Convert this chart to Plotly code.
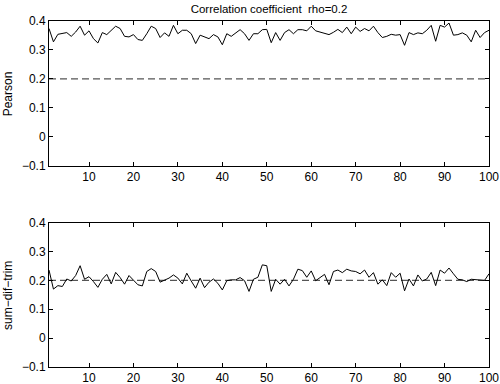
import plotly.graph_objects as go

x_vals = list(range(1, 101))

pearson = [
    0.374, 0.328, 0.354, 0.356, 0.360, 0.347, 0.362, 0.382, 0.351, 0.366,
    0.339, 0.324, 0.360, 0.353, 0.368, 0.382, 0.374, 0.347, 0.345, 0.353,
    0.336, 0.333, 0.356, 0.382, 0.374, 0.343, 0.359, 0.347, 0.385, 0.356,
    0.368, 0.368, 0.356, 0.322, 0.351, 0.345, 0.339, 0.353, 0.345, 0.318,
    0.356, 0.347, 0.359, 0.370, 0.356, 0.333, 0.356, 0.356, 0.370, 0.371,
    0.325, 0.360, 0.333, 0.360, 0.370, 0.356, 0.370, 0.370, 0.366, 0.382,
    0.366, 0.362, 0.359, 0.353, 0.361, 0.371, 0.360, 0.379, 0.356, 0.379,
    0.364, 0.374, 0.366, 0.382, 0.360, 0.343, 0.347, 0.354, 0.351, 0.353,
    0.316, 0.360, 0.353, 0.359, 0.356, 0.368, 0.385, 0.330, 0.385, 0.379,
    0.393, 0.351, 0.353, 0.359, 0.351, 0.328, 0.368, 0.343, 0.360, 0.368,
]

sum_dif_trim = [
    0.236, 0.170, 0.182, 0.179, 0.205, 0.198, 0.217, 0.251, 0.204, 0.213,
    0.196, 0.176, 0.204, 0.221, 0.188, 0.228, 0.210, 0.187, 0.217, 0.202,
    0.185, 0.181, 0.231, 0.241, 0.231, 0.194, 0.202, 0.208, 0.219, 0.208,
    0.188, 0.225, 0.198, 0.173, 0.208, 0.175, 0.194, 0.205, 0.190, 0.167,
    0.199, 0.202, 0.202, 0.210, 0.199, 0.162, 0.204, 0.211, 0.254, 0.251,
    0.162, 0.204, 0.187, 0.204, 0.181, 0.204, 0.239, 0.234, 0.211, 0.233,
    0.199, 0.211, 0.221, 0.185, 0.231, 0.236, 0.227, 0.239, 0.233, 0.231,
    0.223, 0.236, 0.211, 0.227, 0.187, 0.202, 0.182, 0.227, 0.211, 0.225,
    0.164, 0.205, 0.181, 0.219, 0.198, 0.205, 0.228, 0.182, 0.236, 0.225,
    0.243, 0.223, 0.204, 0.202, 0.196, 0.204, 0.202, 0.202, 0.200, 0.223,
]

rho = 0.2
x_ticks = [10, 20, 30, 40, 50, 60, 70, 80, 90, 100]
y_ticks = [-0.1, 0, 0.1, 0.2, 0.3, 0.4]
y_tick_text = ["\u22120.1", "0", "0.1", "0.2", "0.3", "0.4"]
title_text = "Correlation coefficient  rho=0.2"
ylabels = ["Pearson", "sum\u2212dif\u2212trim"]

FONT = "Liberation Sans, Arial, Helvetica, sans-serif"

fig = go.Figure()

for i, series in enumerate([pearson, sum_dif_trim]):
    xa = "x" if i == 0 else "x2"
    ya = "y" if i == 0 else "y2"
    fig.add_trace(go.Scatter(
        x=[x_vals[0], x_vals[-1]], y=[rho, rho], mode="lines",
        line=dict(color="#555555", width=1.2, dash="7px,4px"),
        xaxis=xa, yaxis=ya, showlegend=False, hoverinfo="skip"))
    fig.add_trace(go.Scatter(
        x=x_vals, y=series, mode="lines",
        line=dict(color="black", width=1),
        xaxis=xa, yaxis=ya, showlegend=False))

axis_common = dict(
    showgrid=False, zeroline=False, showline=True, linecolor="black",
    linewidth=1, mirror="ticks", ticks="inside", ticklen=4, tickcolor="black",
    tickfont=dict(family=FONT, size=12, color="black"), automargin=False,
)

fig.update_layout(
    width=500, height=384,
    margin=dict(l=49, r=11, t=21, b=17),
    paper_bgcolor="white", plot_bgcolor="white",
    font=dict(family=FONT, size=12, color="black"),
    title=dict(text=title_text, x=0.538, xanchor="center", y=1 - 8.5 / 384,
               yanchor="middle", font=dict(family=FONT, size=11.5, color="black")),
    xaxis=dict(domain=[0, 1], range=[1, 100], tickvals=x_ticks, anchor="y", **axis_common),
    yaxis=dict(domain=[0.5818, 1], range=[-0.1, 0.4], tickvals=y_ticks,
               ticktext=y_tick_text, anchor="x", **axis_common),
    xaxis2=dict(domain=[0, 1], range=[1, 100], tickvals=x_ticks, anchor="y2", **axis_common),
    yaxis2=dict(domain=[0, 0.417], range=[-0.1, 0.4], tickvals=y_ticks,
                ticktext=y_tick_text, anchor="x2", **axis_common),
)

for ycen, label in zip([0.791, 0.208], ylabels):
    fig.add_annotation(text=label, xref="paper", yref="paper", x=-0.0932, y=ycen,
                       xanchor="center", yanchor="middle", textangle=-90,
                       showarrow=False, font=dict(family=FONT, size=12, color="black"))

fig.write_html(
    "out.html",
    config={"displayModeBar": False},
    post_script="document.body.style.margin='0';document.body.style.overflow='hidden';",
)
